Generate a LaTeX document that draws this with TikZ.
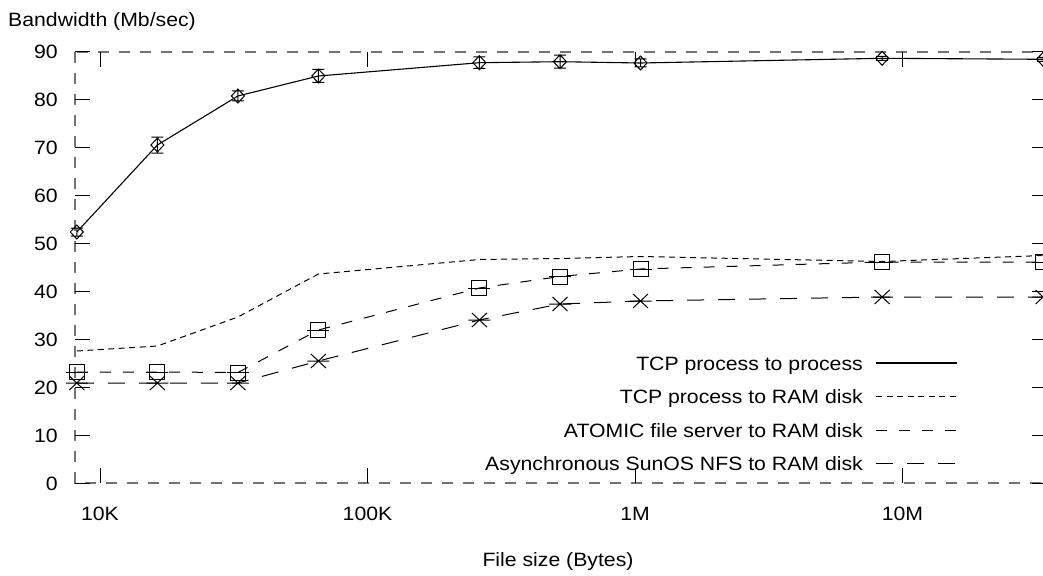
\documentclass[tikz,border=0pt]{standalone}
\usepackage{fontspec}
\setmainfont{Liberation Sans}
\newfontfamily\plotfont[FakeStretch=1.1]{Liberation Sans}
\newcommand{\lbl}{\plotfont\fontsize{19.3}{23}\selectfont}
\begin{document}
\begin{tikzpicture}[x=1pt,y=-1pt,
  frm/.style={draw=black!55, dash pattern=on 11pt off 10pt, line width=1.2pt},
  tk/.style={draw=black, line width=1pt},
  lab/.style={font=\lbl, inner sep=0pt},
  p2p/.style={draw=black, line width=1.1pt},
  ram/.style={draw=black, line width=1pt, dash pattern=on 6pt off 4.5pt},
  atom/.style={draw=black, line width=1pt, dash pattern=on 11pt off 12pt},
  nfs/.style={draw=black, line width=1pt, dash pattern=on 17pt off 14pt},
  mk/.style={draw=black, line width=1pt, solid},
  pics/dmark/.style={code={\draw[mk] (-6.5,0)--(0,-7)--(6.5,0)--(0,7)--cycle (0,-#1)--(0,#1) (-6,-#1)--(6,-#1) (-6,#1)--(6,#1);}},
  pics/smark/.style={code={\draw[mk] (-7.5,-7.5) rectangle (7.5,7.5) (-11,0)--(11,0);}},
  pics/xmark/.style={code={\draw[mk] (-7.5,-7)--(7.5,7) (-7.5,7)--(7.5,-7) (-11,0)--(11,0);}},
]
\useasboundingbox (0,0) rectangle (1043,575);
\fill[white] (0,0) rectangle (1043,575);

% frame
\draw[frm] (75,52) rectangle (1047,483);

% y ticks and labels
\foreach \v in {0,10,...,90}{
  \pgfmathsetmacro{\yy}{483-4.79*\v}
  \draw[tk] (75,\yy) -- (90,\yy);
  \draw[tk] (1032,\yy) -- (1047,\yy);
  \node[lab, anchor=base east] (yl\v) at (58,\yy+7) {\v};
}
% x ticks and labels
\foreach \xx/\t/\n in {100/10K/a,367.5/100K/b,635/1M/c,902.5/10M/d}{
  \draw[tk] (\xx,483) -- (\xx,468);
  \draw[tk] (\xx,52) -- (\xx,67);
  \node[lab, anchor=base] (xl\n) at (\xx,520.5) {\t};
}

% axis titles
\node[lab, anchor=base west] (ytitle) at (8,27) {Bandwidth (Mb/sec)};
\node[lab, anchor=base] (xtitle) at (558,566) {File size (Bytes)};

% data coordinates
\foreach \i/\xx/\ya/\yb/\yc/\yd in {
  1/76.8/232/351/372/383,
  2/157.4/145/346/372/383,
  3/237.9/96/317/372.5/383,
  4/318.4/76/274/330/361,
  5/479.4/62.7/259.5/288/320,
  6/560/61.7/258.5/276.5/304,
  7/640.5/63/256.5/269/301,
  8/882.1/58.3/261.5/262/297,
  9/1043.1/59.3/255.5/262/297}{
  \coordinate (a\i) at (\xx,\ya);
  \coordinate (b\i) at (\xx,\yb);
  \coordinate (c\i) at (\xx,\yc);
  \coordinate (d\i) at (\xx,\yd);
}

\draw[p2p] (a1)--(a2)--(a3)--(a4)--(a5)--(a6)--(a7)--(a8)--(a9);
\draw[ram] (b1)--(b2)--(b3)--(b4)--(b5)--(b6)--(b7)--(b8)--(b9);
\draw[atom] (c1)--(c2)--(c3)--(c4)--(c5)--(c6)--(c7)--(c8)--(c9);
\draw[nfs] (d1)--(d2)--(d3)--(d4)--(d5)--(d6)--(d7)--(d8)--(d9);

\foreach \i/\e in {1/4,2/8,3/5,4/6.5,5/5.8,6/6.5,7/4,8/2,9/2}{
  \pic at (a\i) {dmark=\e};
}
\foreach \i in {1,...,9}{
  \pic at (c\i) {smark};
  \pic at (d\i) {xmark};
}

% legend
\node[lab, anchor=base east] (k1) at (863,370) {TCP process to process};
\node[lab, anchor=base east] (k2) at (863,403.5) {TCP process to RAM disk};
\node[lab, anchor=base east] (k3) at (863,437) {ATOMIC file server to RAM disk};
\node[lab, anchor=base east] (k4) at (863,470.5) {Asynchronous SunOS NFS to RAM disk};
\coordinate (s1a) at (876,363); \coordinate (s1b) at (957,363);
\coordinate (s2a) at (876,396.5); \coordinate (s2b) at (957,396.5);
\coordinate (s3a) at (876,430); \coordinate (s3b) at (957,430);
\coordinate (s4a) at (876,463.5); \coordinate (s4b) at (957,463.5);
\draw[p2p] (s1a) -- (s1b);
\draw[ram] (s2a) -- (s2b);
\draw[atom] (s3a) -- (s3b);
\draw[nfs] (s4a) -- (s4b);
\end{tikzpicture}
\end{document}
